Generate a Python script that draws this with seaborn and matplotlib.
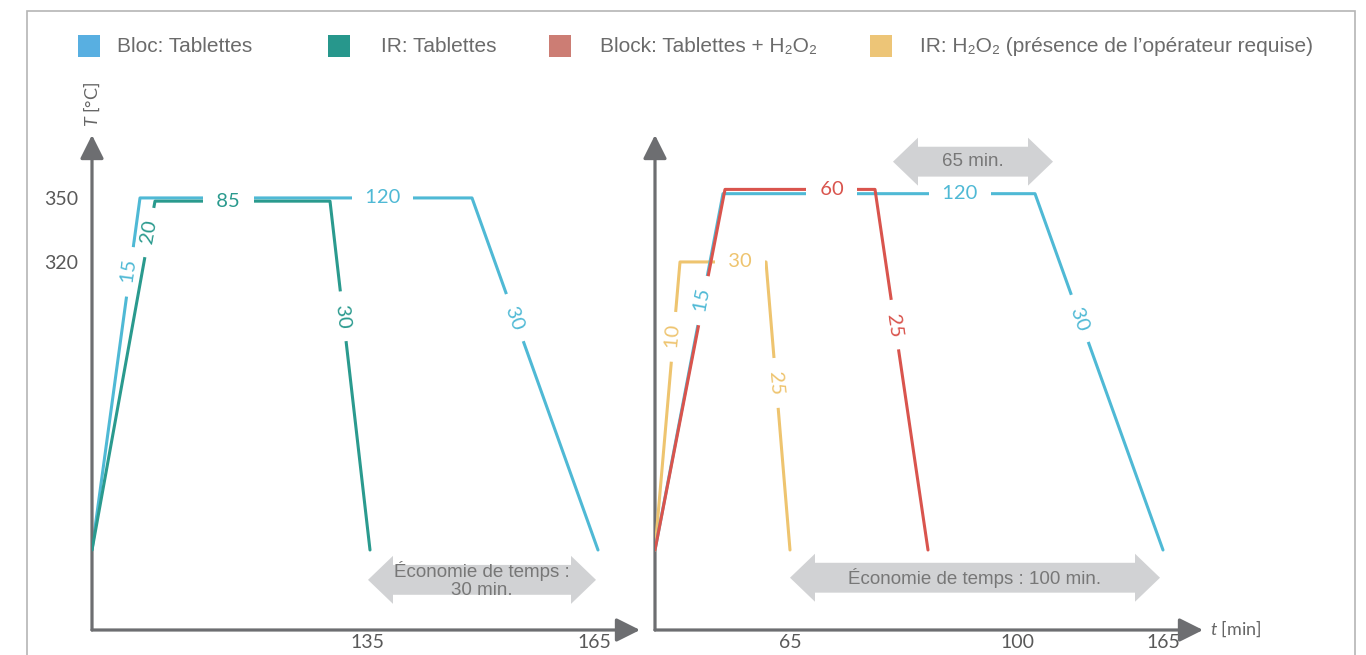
import numpy as np
import matplotlib.pyplot as plt
from matplotlib.patches import Polygon, Rectangle
import seaborn as sns

sns.set_style("white")
plt.rcParams['font.family'] = ['Lato', 'DejaVu Sans']
plt.rcParams['mathtext.fontset'] = 'custom'
plt.rcParams['mathtext.it'] = 'Lato:italic'
plt.rcParams['mathtext.rm'] = 'Lato'

# ----- data (schematic time position along the axis, temperature in °C) -----
bloc_left_t = [0, 48, 380, 506]
bloc_left_T = [185, 350, 350, 185]
bloc_left_min = [15, 120, 30]

ir_left_t = [0, 63, 238, 278]
ir_left_T = [185, 348.5, 348.5, 185]
ir_left_min = [20, 85, 30]

bloc_right_t = [0, 68, 380, 508]
bloc_right_T = [185, 352, 352, 185]
bloc_right_min = [15, 120, 30]

block_h2o2_t = [0, 70, 220, 273]
block_h2o2_T = [185, 354, 354, 185]
block_h2o2_min = [None, 60, 25]

ir_h2o2_t = [0, 25, 111, 135]
ir_h2o2_T = [185, 320, 320, 185]
ir_h2o2_min = [10, 30, 25]

y_ticks = [320, 350]
left_xticks = [275, 502]
left_xlabels = ['135', '165']
right_xticks = [135, 362, 508]
right_xlabels = ['65', '100', '165']

legend_labels = ['Bloc: Tablettes', 'IR: Tablettes',
                 'Block: Tablettes + H\u2082O\u2082',
                 'IR: H\u2082O\u2082 (présence de l\u2019opérateur requise)']
legend_colors = ['#58AFE1', '#27978C', '#CC7D74', '#EDC577']

# ----- style -----
W, H = 1366, 655
AX_COLOR = '#6d6e71'
TXT = '#666666'
ARROW_FILL = '#d1d2d4'
line_colors = {'bloc': '#4FB9D5', 'ir': '#2A9A8E', 'block': '#D9544D', 'irh': '#EEC46F'}

profiles = [
    # panel, key, t, T, minutes, label fractions along each segment
    (0, 'bloc', bloc_left_t, bloc_left_T, bloc_left_min, [0.79, 0.73, 0.34]),
    (0, 'ir', ir_left_t, ir_left_T, ir_left_min, [0.91, 0.42, 0.33]),
    (1, 'irh', ir_h2o2_t, ir_h2o2_T, ir_h2o2_min, [0.74, 0.70, 0.42]),
    (1, 'bloc', bloc_right_t, bloc_right_T, bloc_right_min, [0.70, 0.76, 0.35]),
    (1, 'block', block_h2o2_t, block_h2o2_T, block_h2o2_min, [0.0, 0.71, 0.375]),
]

fig = plt.figure(figsize=(W / 100, H / 100), dpi=100)


def px(x, y):
    return x / W, 1 - y / H


T_LO, T_HI = 147.5, 379.5
axes = []
for x0 in (92, 655):
    ax = fig.add_axes([x0 / W, (H - 630) / H, 548 / W, 495 / H])
    ax.set_xlim(0, 548)
    ax.set_ylim(T_LO, T_HI)
    ax.patch.set_alpha(0)
    for s in ax.spines.values():
        s.set_visible(False)
    for xy in [(1, 0), (0, 1)]:
        ax.annotate('', xy=xy, xytext=(0, 0), xycoords='axes fraction',
                    annotation_clip=False,
                    arrowprops=dict(arrowstyle='-|>,head_length=0.72,head_width=0.36',
                                    mutation_scale=20, lw=2.3, color=AX_COLOR,
                                    shrinkA=0, shrinkB=0))
    ax.tick_params(length=0, labelsize=14, labelcolor='#595959')
    ax.tick_params(axis='y', pad=10)
    ax.tick_params(axis='x', pad=3)
    axes.append(ax)

axes[0].set_yticks(y_ticks, [str(v) for v in y_ticks])
axes[1].set_yticks([])
axes[0].set_xticks(left_xticks, left_xlabels)
axes[1].set_xticks(right_xticks, right_xlabels)

# profiles + duration labels (white box makes the gap in the lines)
for n, (panel, key, t, T, mins, fracs) in enumerate(profiles):
    ax = axes[panel]
    z = 2 + n
    sns.lineplot(x=t, y=T, color=line_colors[key], sort=False, estimator=None,
                 lw=2.2, zorder=z, ax=ax)
    label_z = z + 0.5 if panel == 0 else 20
    for i, (m, f) in enumerate(zip(mins, fracs)):
        if m is None:
            continue
        x = t[i] + f * (t[i + 1] - t[i])
        y = T[i] + f * (T[i + 1] - T[i])
        p0 = ax.transData.transform((t[i], T[i]))
        p1 = ax.transData.transform((t[i + 1], T[i + 1]))
        ang = np.degrees(np.arctan2(p1[1] - p0[1], p1[0] - p0[0]))
        ax.text(x, y, f'  {m}  ', rotation=ang, rotation_mode='anchor',
                ha='center', va='center', color=line_colors[key], fontsize=14.5,
                bbox=dict(fc='white', ec='none', pad=2.2), zorder=label_z)


def gray_arrow(ax, x0, x1, yc, text, body=7.0, head=11.25, hl=25):
    pts = [(x0, yc), (x0 + hl, yc + head), (x0 + hl, yc + body), (x1 - hl, yc + body),
           (x1 - hl, yc + head), (x1, yc), (x1 - hl, yc - head), (x1 - hl, yc - body),
           (x0 + hl, yc - body), (x0 + hl, yc - head)]
    ax.add_patch(Polygon(pts, closed=True, fc=ARROW_FILL, ec='none', zorder=1, clip_on=False))
    ax.text((x0 + x1) / 2, yc, text, ha='center', va='center', fontsize=13.5,
            color='#777777', linespacing=1.08, zorder=30,
            family=['Liberation Sans', 'DejaVu Sans'])


gray_arrow(axes[0], 276, 504, 171, '\u00c9conomie de temps :\n30 min.')
gray_arrow(axes[1], 135, 505, 172, '\u00c9conomie de temps : 100 min.')
gray_arrow(axes[1], 238, 398, 367, '65 min.')

for ax in axes:
    ax.set_xlabel('')
    ax.set_ylabel('')

# axis titles
fig.text(*px(92, 104), '$T$ [°C]', rotation=90, ha='center', va='center',
         fontsize=13, color=TXT)
fig.text(*px(1210, 629), '$t$ [min]', ha='left', va='center', fontsize=13, color=TXT)

# legend
leg_sq_x = [78, 328, 549, 870]
leg_txt_x = [117, 381, 600, 920]
for lab, col, sx, tx in zip(legend_labels, legend_colors, leg_sq_x, leg_txt_x):
    fig.patches.append(Rectangle(px(sx, 57), 22 / W, 22 / H, transform=fig.transFigure,
                                 fc=col, ec='none'))
    fig.text(*px(tx, 46), lab, ha='left', va='center', fontsize=15, color='#6b6b6b',
             family=['Liberation Sans', 'DejaVu Sans'])

# frame
fig.patches.append(Rectangle((27 / W, -0.05), (1355 - 27) / W, (H - 11) / H + 0.05,
                             transform=fig.transFigure, fill=False, ec='#b5b5b5', lw=1.2))

fig.savefig('out.png', dpi=100)
